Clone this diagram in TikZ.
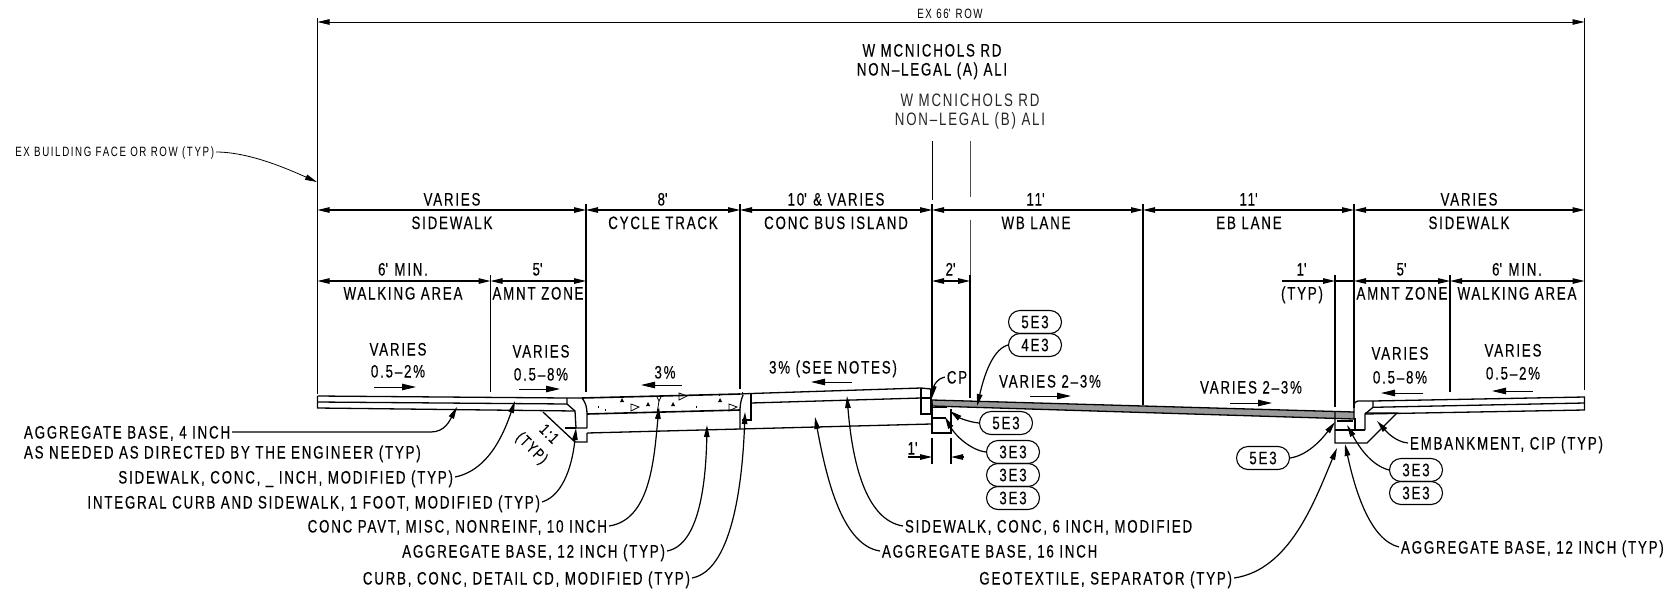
\documentclass[tikz,border=0pt]{standalone}
\usepackage{fontspec}
\setmainfont[FakeStretch=0.74,LetterSpace=10,FakeBold=0.3]{Liberation Sans}
\newfontfamily\thinfam[FakeStretch=0.74,LetterSpace=10]{Liberation Sans}
\newfontfamily\smallfam[FakeStretch=0.72,LetterSpace=12]{Liberation Sans}
\usetikzlibrary{arrows.meta,shapes.misc}
\newcommand{\ftk}{\textquotesingle}
\tikzset{
  lab/.style={font=\fontsize{18}{18}\selectfont,inner sep=0pt,outer sep=2pt,text height=13pt,text depth=0pt},
  smalllab/.style={font=\smallfam\fontsize{13.5}{13.5}\selectfont,inner sep=0pt,outer sep=2pt,text height=9.5pt,text depth=0pt},
  thinlab/.style={lab,font=\thinfam\fontsize{18}{18}\selectfont,text=black!85},
  pill/.style={draw,rounded rectangle,line width=1.1pt,minimum width=53pt,minimum height=23pt,inner sep=0pt,font=\fontsize{18}{18}\selectfont},
  tip/.style={-{Triangle[length=12pt,width=5.5pt]}},
  dim/.style={{Triangle[length=12pt,width=5.5pt]}-{Triangle[length=12pt,width=5.5pt]},line width=1.2pt},
  thindim/.style={dim,line width=.8pt},
  leader/.style={tip,line width=1.2pt},
  ext/.style={line width=1.4pt},
  thinext/.style={line width=.7pt},
  sect/.style={line width=1.3pt,line join=miter},
  slope/.style={-{Triangle[length=14pt,width=6.5pt]},line width=1pt}
}
\begin{document}
\begin{tikzpicture}[x=1pt,y=-1pt]
\useasboundingbox (0,0) rectangle (1672,592);
% columns
\foreach \n/\x in {a/317.5,b/490.5,c/586,d/740,e/932,f/970,g/1143,h/1335,i/1354,j/1450,k/1584.5}{
  \coordinate (\n0) at (\x,22);
  \coordinate (\n1) at (\x,210);
  \coordinate (\n2) at (\x,281);
}
% extension lines
\draw[thinext] (317.5,18) -- (317.5,205);
\draw[thinext] (1584.5,18) -- (1584.5,204);
\draw[ext] (317.5,204) -- (317.5,394);
\draw[ext] (1584.5,204) -- (1584.5,390);
\draw[ext] (490.5,275) -- (490.5,392);
\draw[ext] (586,204) -- (586,392);
\draw[ext] (740,204) -- (740,389);
\draw[thinext] (932,141) -- (932,200);
\draw[ext] (932,204) -- (932,386);
\draw[thinext,black!70] (970,141) -- (970,197);
\draw[thinext,black!70] (970,220) -- (970,275);
\draw[ext] (970,275) -- (970,398);
\draw[ext] (1143,204) -- (1143,405);
\draw[ext] (1354,204) -- (1354,408);
\draw[ext] (1335,275) -- (1335,407);
\draw[ext] (1450,275) -- (1450,392);
% dimensions
\draw[thindim] (a0) -- (k0);
\draw[dim] (a1) -- (c1);
\draw[dim] (c1) -- (d1);
\draw[dim] (d1) -- (e1);
\draw[dim] (e1) -- (g1);
\draw[dim] (g1) -- (i1);
\draw[dim] (i1) -- (k1);
\draw[dim] (a2) -- (b2);
\draw[dim] (b2) -- (c2);
\draw[dim] (e2) -- (f2);
\draw[dim] (i2) -- (j2);
\draw[dim] (j2) -- (k2);
\coordinate (typfree) at (1282,281);
\draw[tip,line width=1.2pt] (typfree) -- (h2);
\draw[line width=1.2pt] (h2) -- (i2);
% dimension labels
\node[smalllab] (row) at (950,14) {EX 66\ftk\ ROW};
\node[lab] (alia1) at (932,50) {W MCNICHOLS RD};
\node[lab] (alia2) at (932,69) {NON–LEGAL (A) ALI};
\node[thinlab] (alib1) at (970,100) {W MCNICHOLS RD};
\node[thinlab] (alib2) at (970,119) {NON–LEGAL (B) ALI};
\node[lab] (t1) at (452,199) {VARIES};
\node[lab] (t2) at (663,199) {8\ftk};
\node[lab] (t3) at (836,199) {10\ftk\ \& VARIES};
\node[lab] (t4) at (1036,199) {11\ftk};
\node[lab] (t5) at (1249,199) {11\ftk};
\node[lab] (t6) at (1469,199) {VARIES};
\node[lab] (u1) at (452,222.5) {SIDEWALK};
\node[lab] (u2) at (663,222.5) {CYCLE TRACK};
\node[lab] (u3) at (836,222.5) {CONC BUS ISLAND};
\node[lab] (u4) at (1036,222.5) {WB LANE};
\node[lab] (u5) at (1249,222.5) {EB LANE};
\node[lab] (u6) at (1469,222.5) {SIDEWALK};
\node[lab] (v1) at (403,269) {6\ftk\ MIN.};
\node[lab] (v2) at (538,269) {5\ftk};
\node[lab] (v3) at (951,269) {2\ftk};
\node[lab] (v4) at (1302,269) {1\ftk};
\node[lab] (v5) at (1402,269) {5\ftk};
\node[lab] (v6) at (1517,269) {6\ftk\ MIN.};
\node[lab] (w1) at (403,293) {WALKING AREA};
\node[lab] (w2) at (538,293) {AMNT ZONE};
\node[lab] (w3) at (1302,293) {(TYP)};
\node[lab] (w4) at (1402,293) {AMNT ZONE};
\node[lab] (w5) at (1517,293) {WALKING AREA};
% slope labels
\node[lab] (s1a) at (398,349) {VARIES};
\node[lab] (s1b) at (398,371) {0.5–2\%};
\node[lab] (s2a) at (541,351) {VARIES};
\node[lab] (s2b) at (541,374) {0.5–8\%};
\node[lab] (s3) at (665,372) {3\%};
\node[lab] (s4) at (833,367) {3\% (SEE NOTES)};
\node[lab] (cp) at (957,377) {CP};
\node[lab] (s5) at (1050,381) {VARIES 2–3\%};
\node[lab] (s6) at (1251,387) {VARIES 2–3\%};
\node[lab] (s7a) at (1400,353) {VARIES};
\node[lab] (s7b) at (1400,377) {0.5–8\%};
\node[lab] (s8a) at (1513,350) {VARIES};
\node[lab] (s8b) at (1513,373) {0.5–2\%};
% slope arrows
\draw[slope] (374,387) -- (416,387);
\draw[slope] (519,389) -- (560,389);
\draw[slope] (682,385) -- (641,385);
\draw[slope] (852,382) -- (811,382);
\draw[slope] (1030,396) -- (1071,396);
\draw[slope] (1230,403) -- (1272,403);
\draw[slope] (1423,393) -- (1381,393);
\draw[slope] (1533,391) -- (1492,391);
% left sidewalk and curb
\draw[sect] (317.5,396) -- (317.5,408) -- (575,411);
\draw[sect] (317.5,396) -- (567,398) -- (582,398);
\draw[sect] (317.5,402) -- (567,404);
\draw[sect] (567,398) -- (567,404) -- (575,411) -- (576,428) -- (587,428);
\draw[sect] (582,398) .. controls (586,403) and (587,408) .. (587,414) -- (587,428);
\draw[sect] (543,412) -- (575,442) -- (587,442) -- (587,433);
\draw[sect] (565,428) -- (576,428);
% concrete pavement
\draw[sect,line width=1.6pt] (582,398) -- (740,394);
\draw[sect] (740,394) -- (751,393.5) -- (921,388) -- (931,389);
\draw[sect,line width=1.6pt] (587,414) -- (740,410);
\draw[sect] (587,433) -- (740,429) -- (931,424);
\draw[line width=.8pt] (657,397) -- (659,401) -- (661,397);
\draw[line width=.8pt] (659,401) -- (657,413);
% right curb of track
\draw[sect] (743,395) .. controls (741,400) and (740,405) .. (740,410) -- (740,429);
\draw[sect] (751,394) -- (751,420) -- (742,420);
\draw[sect] (751,403) -- (921,398);
% bus island curb
\draw[sect] (921,388) -- (921,414) -- (931,414) -- (931,398);
\draw[sect] (921,398) -- (931,398);
\draw[sect] (931,389) -- (931,400);
% aggregate marks
\foreach \p in {(622,400),(648,404),(673,404),(720,400)}{
  \fill \p ++(-2,2) -- ++(4,0) -- ++(-2,-4) -- cycle;
}
\foreach \p in {(635,408),(683,397),(733,408)}{
  \draw[line width=.8pt] \p ++(-4,3) -- ++(0,-7) -- ++(8,3) -- cycle;
}
\foreach \p in {(598,408),(605,411),(696,408),(719,396),(742,394)}{
  \draw[line width=.8pt] \p -- ++(0,-2);
}
% road pavement
\draw[sect,fill=black!40] (932,400) -- (1354,412) -- (1354,419) -- (932,406) -- cycle;
% left roadway base
\draw[sect] (932,403) -- (932,433) -- (951,433) -- (951,409);
\draw[sect] (932,407.5) -- (947,407.5);
\draw[sect] (932,418) -- (946,418);
% right curb and base
\draw[sect] (1335,412) -- (1335,443) -- (1367,443) -- (1397,413) -- (1365,413);
\draw[sect] (1335,430) -- (1365,430);
\draw[sect] (1337,421) -- (1353,421);
\draw[sect] (1355,418) -- (1355,430);
\draw[sect] (1354,412) -- (1354,406) .. controls (1354,403) and (1355,401) .. (1358,401) -- (1373,401);
\draw[sect] (1373,401) -- (1373,407.3) -- (1365,414) -- (1365,430);
\draw[sect] (1373,401) -- (1584.5,397) -- (1584.5,410) -- (1365,414);
\draw[sect] (1373,407.3) -- (1584.5,403);
% 1 ft dimension
\coordinate (da) at (932,438);
\coordinate (db) at (932,464);
\coordinate (dc) at (951,438);
\coordinate (dd) at (951,464);
\draw[ext] (da) -- (db);
\draw[ext] (dc) -- (dd);
\coordinate (de) at (908,457);
\coordinate (df) at (932,457);
\coordinate (dg) at (964,457);
\coordinate (dh) at (951,457);
\draw[leader] (de) -- (df);
\draw[leader] (dg) -- (dh);
\node[lab] (oneft) at (913,448) {1\ftk};
% slope text
\node[lab,rotate=-45,font=\fontsize{16}{16}\selectfont] (slope11) at (550,433) {1:1};
\node[lab,rotate=-45,font=\fontsize{16}{16}\selectfont] (slopetyp) at (533,447) {(TYP)};
% pills
\node[pill] (p1) at (1035,322) {5E3};
\node[pill] (p2) at (1035,345) {4E3};
\node[pill] (p3) at (1006,423) {5E3};
\node[pill] (p4) at (1013,452) {3E3};
\node[pill] (p5) at (1013,475) {3E3};
\node[pill] (p6) at (1013,498) {3E3};
\node[pill] (p7) at (1263,458) {5E3};
\node[pill] (p8) at (1416,470) {3E3};
\node[pill] (p9) at (1416,493) {3E3};
% callout labels
\node[smalllab,anchor=east] (ex) at (216,152) {EX BUILDING FACE OR ROW (TYP)};
\node[lab,anchor=west] (n1) at (22,432) {AGGREGATE BASE, 4 INCH};
\node[lab,anchor=west] (n1b) at (22,452) {AS NEEDED AS DIRECTED BY THE ENGINEER (TYP)};
\node[lab,anchor=east] (n2) at (455,477) {SIDEWALK, CONC, \_ INCH, MODIFIED (TYP)};
\node[lab,anchor=east] (n3) at (542,502) {INTEGRAL CURB AND SIDEWALK, 1 FOOT, MODIFIED (TYP)};
\node[lab,anchor=east] (n4) at (609,526) {CONC PAVT, MISC, NONREINF, 10 INCH};
\node[lab,anchor=east] (n5) at (667,551) {AGGREGATE BASE, 12 INCH (TYP)};
\node[lab,anchor=east] (n6) at (692,578) {CURB, CONC, DETAIL CD, MODIFIED (TYP)};
\node[lab,anchor=west] (n7) at (903,526) {SIDEWALK, CONC, 6 INCH, MODIFIED};
\node[lab,anchor=west] (n8) at (880,551) {AGGREGATE BASE, 16 INCH};
\node[lab,anchor=east] (n9) at (1234,578) {GEOTEXTILE, SEPARATOR (TYP)};
\node[lab,anchor=west] (n10) at (1399,547) {AGGREGATE BASE, 12 INCH (TYP)};
\node[lab,anchor=west] (n11) at (1408,443) {EMBANKMENT, CIP (TYP)};
% leaders
\coordinate (ax) at (317,182);
\coordinate (a1t) at (457,407);
\coordinate (a2t) at (515,401);
\coordinate (a3t) at (576,428);
\coordinate (a4t) at (659,407);
\coordinate (a5t) at (707,425);
\coordinate (a6t) at (745,412);
\coordinate (a7t) at (847,396);
\coordinate (a8t) at (815,417);
\coordinate (a9t) at (1337,448);
\coordinate (a10t) at (1345,444);
\coordinate (a11t) at (1377,421);
\coordinate (acp) at (932,398);
\coordinate (ap2) at (977,406);
\coordinate (ap3) at (950,411);
\coordinate (ap4) at (945,417);
\coordinate (ap7) at (1335,422);
\coordinate (ap8) at (1347,425);
\draw[leader,line width=.8pt] (ex.east) .. controls (250,152) and (290,170) .. (ax);
\draw[leader] (n1.east) -- (431,432) .. controls (445,432) and (450,420) .. (a1t);
\draw[leader] (n2.east) .. controls (490,470) and (505,430) .. (a2t);
\draw[leader] (n3.east) .. controls (565,495) and (573,460) .. (a3t);
\draw[leader] (n4.east) .. controls (650,520) and (654,460) .. (a4t);
\draw[leader] (n5.east) .. controls (700,545) and (706,480) .. (a5t);
\draw[leader] (n6.east) .. controls (735,570) and (743,470) .. (a6t);
\draw[leader] (n7.west) .. controls (865,520) and (852,460) .. (a7t);
\draw[leader] (n8.west) .. controls (840,545) and (825,470) .. (a8t);
\draw[leader] (n9.east) .. controls (1290,570) and (1315,500) .. (a9t);
\draw[leader] (n10.west) .. controls (1370,540) and (1355,490) .. (a10t);
\draw[leader] (n11.west) .. controls (1395,442) and (1385,430) .. (a11t);
\draw[leader] (cp.west) .. controls (938,378) and (934,385) .. (acp);
\draw[leader] (p2.west) .. controls (990,350) and (982,385) .. (ap2);
\draw[leader] (p3.west) .. controls (968,422) and (958,417) .. (ap3);
\draw[leader] (p4.west) .. controls (970,450) and (955,435) .. (ap4);
\draw[leader] (p7.east) .. controls (1310,455) and (1325,435) .. (ap7);
\draw[leader] (p8.west) .. controls (1370,465) and (1358,445) .. (ap8);
\end{tikzpicture}
\end{document}
